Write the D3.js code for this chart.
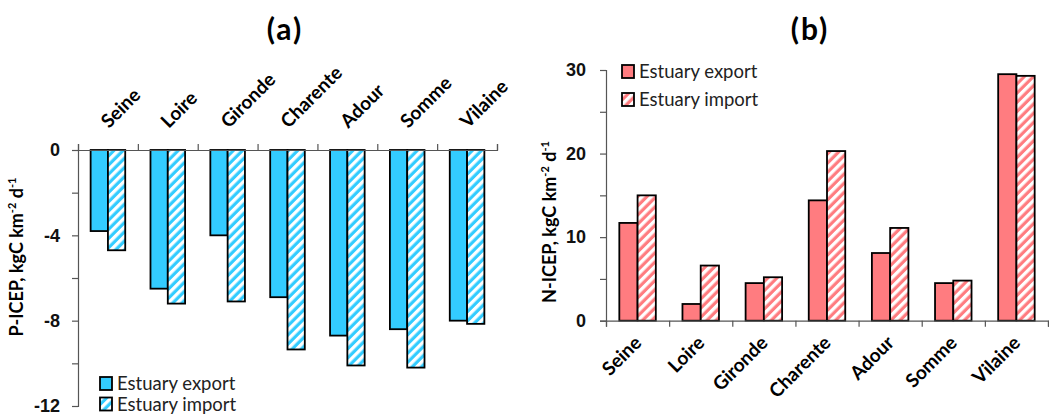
<!DOCTYPE html>
<html>
<head>
<meta charset="utf-8">
<script src="https://cdn.jsdelivr.net/npm/d3@7"></script>
<style>
  body { margin: 0; background: #fff; }
  svg { font-family: Lato, "Open Sans", sans-serif; }
  .axis path, .axis line { stroke: #555; stroke-width: 1.2; }
  .axis text { font-weight: bold; font-size: 18px; fill: #111; }
</style>
</head>
<body>
<svg id="chart" width="1049" height="417"></svg>
<script>
// rivers / estuaries
const rivers = ['Seine', 'Loire', 'Gironde', 'Charente', 'Adour', 'Somme', 'Vilaine']
const seriesNames = ['Estuary export', 'Estuary import']

// panel (a) P-ICEP values
const pExport = [-3.8, -6.5, -4.0, -6.9, -8.7, -8.4, -8.0]
const pImport = [-4.7, -7.2, -7.1, -9.35, -10.1, -10.2, -8.15]
const pTicks = [0, -4, -8, -12]

// panel (b) N-ICEP values
const nExport = [11.7, 2.0, 4.5, 14.4, 8.1, 4.5, 29.5]
const nImport = [15.0, 6.6, 5.2, 20.3, 11.1, 4.8, 29.3]
const nTicks = [0, 10, 20, 30]

const svg = d3.select('#chart')
const defs = svg.append('defs')

function hatch(id, color) {
    const p = defs.append('pattern')
        .attr('id', id)
        .attr('patternUnits', 'userSpaceOnUse')
        .attr('width', 6.5).attr('height', 6.5)
        .attr('patternTransform', 'rotate(45)')
    p.append('rect').attr('width', 6.5).attr('height', 6.5).attr('fill', color)
    p.append('rect').attr('width', 3.3).attr('height', 6.5).attr('fill', '#fff')
}
hatch('hatchBlue', '#33CCFF')
hatch('hatchRed', '#FF7C80')

function drawPanel(opt) {
    const g = svg.append('g')

    // band scale for the bars, linear one for the boundary ticks
    const x = d3.scaleBand().domain(rivers).range(opt.xRange).paddingInner(0).paddingOuter(0)
    const xEdges = d3.scaleLinear().domain([0, rivers.length]).range(opt.xRange)
    const sub = d3.scaleBand().domain(seriesNames).range([0, x.bandwidth()]).paddingInner(0).paddingOuter(0.73)
    const y = d3.scaleLinear().domain(opt.yDomain).range(opt.yRange)

    // bars
    const data = []
    rivers.forEach((r, i) => {
        data.push({river: r, series: seriesNames[0], value: opt.exp[i]})
        data.push({river: r, series: seriesNames[1], value: opt.imp[i]})
    })
    g.selectAll('.bar')
        .data(data)
        .enter()
        .append('rect')
        .attr('class', 'bar')
        .attr('x', d => x(d.river) + sub(d.series))
        .attr('width', sub.bandwidth())
        .attr('y', d => Math.min(y(0), y(d.value)))
        .attr('height', d => Math.abs(y(d.value) - y(0)))
        .attr('fill', d => d.series == seriesNames[0] ? opt.color : `url(#${opt.pattern})`)
        .attr('stroke', '#000')
        .attr('stroke-width', 1.8)

    // y axis
    const minor = d3.range(opt.yDomain[0], opt.yDomain[1] + opt.minorStep * Math.sign(opt.yDomain[1]) , opt.minorStep * Math.sign(opt.yDomain[1]))
    g.append('g')
        .attr('class', 'axis')
        .attr('transform', `translate(${opt.xRange[0]},0)`)
        .call(d3.axisLeft(y).tickValues(minor).tickSizeOuter(0).tickSize(6).tickPadding(opt.tickPad)
            .tickFormat(d => opt.ticks.includes(d) ? d : ''))

    // category axis: at zero line, ticks at band edges
    const catAxis = opt.top ? d3.axisTop(xEdges) : d3.axisBottom(xEdges)
    g.append('g')
        .attr('class', 'axis')
        .attr('transform', `translate(0,${y(0)})`)
        .call(catAxis.tickValues(d3.range(rivers.length + 1)).tickFormat('').tickSizeOuter(0).tickSize(6))

    // category labels, rotated
    g.selectAll('.cat')
        .data(rivers)
        .enter()
        .append('text')
        .attr('class', 'cat')
        .attr('transform', d => opt.top
            ? `translate(${x(d) + x.bandwidth() / 2 + 1},${opt.catY}) rotate(-45)`
            : `translate(${x(d) + x.bandwidth() / 2 + 5},${opt.catY}) rotate(-45)`)
        .attr('text-anchor', opt.top ? 'start' : 'end')
        .style('font-weight', 'bold')
        .style('font-size', '19px')
        .text(d => d)

    // y title
    const t = g.append('text')
        .attr('transform', `translate(${opt.titleX},${opt.titleY}) rotate(-90)`)
        .attr('text-anchor', 'middle')
        .style('font-weight', 'bold')
        .style('font-size', '18px')
    t.append('tspan').text(opt.yLabel + ', kgC km')
    t.append('tspan').attr('dy', -7).style('font-size', '11px').text('-2')
    t.append('tspan').attr('dy', 7).text(' d')
    t.append('tspan').attr('dy', -7).style('font-size', '11px').text('-1')

    // panel label
    g.append('text')
        .attr('x', opt.panelX).attr('y', 40)
        .attr('text-anchor', 'middle')
        .style('font-weight', 'bold')
        .style('font-size', '30px')
        .style('letter-spacing', '2px')
        .text(opt.panel)

    // legend
    const leg = g.selectAll('.leg')
        .data(seriesNames)
        .enter()
        .append('g')
        .attr('transform', (d, i) => `translate(${opt.legX},${opt.legY + i * opt.legStep})`)
    leg.append('rect')
        .attr('width', 12).attr('height', 13)
        .attr('fill', (d, i) => i == 0 ? opt.color : `url(#${opt.pattern})`)
        .attr('stroke', '#000').attr('stroke-width', 1.8)
    leg.append('text')
        .attr('x', 17).attr('y', 13)
        .style('font-size', '18.5px')
        .style('fill', '#222')
        .text(d => d)
}

drawPanel({
    xRange: [78, 497], yDomain: [0, -12], yRange: [150, 406],
    exp: pExport, imp: pImport, ticks: pTicks, minorStep: 2, tickPad: 12,
    color: '#33CCFF', pattern: 'hatchBlue', top: true, catY: 129,
    yLabel: 'P-ICEP', titleX: 23, titleY: 257, panel: '(a)', panelX: 285,
    legX: 100, legY: 377, legStep: 20.5
})

drawPanel({
    xRange: [606, 1048], yDomain: [0, 30], yRange: [320.7, 70],
    exp: nExport, imp: nImport, ticks: nTicks, minorStep: 5, tickPad: 14,
    color: '#FF7C80', pattern: 'hatchRed', top: false, catY: 344,
    yLabel: 'N-ICEP', titleX: 556, titleY: 222, panel: '(b)', panelX: 810,
    legX: 622, legY: 65, legStep: 28
})
</script>
</body>
</html>
